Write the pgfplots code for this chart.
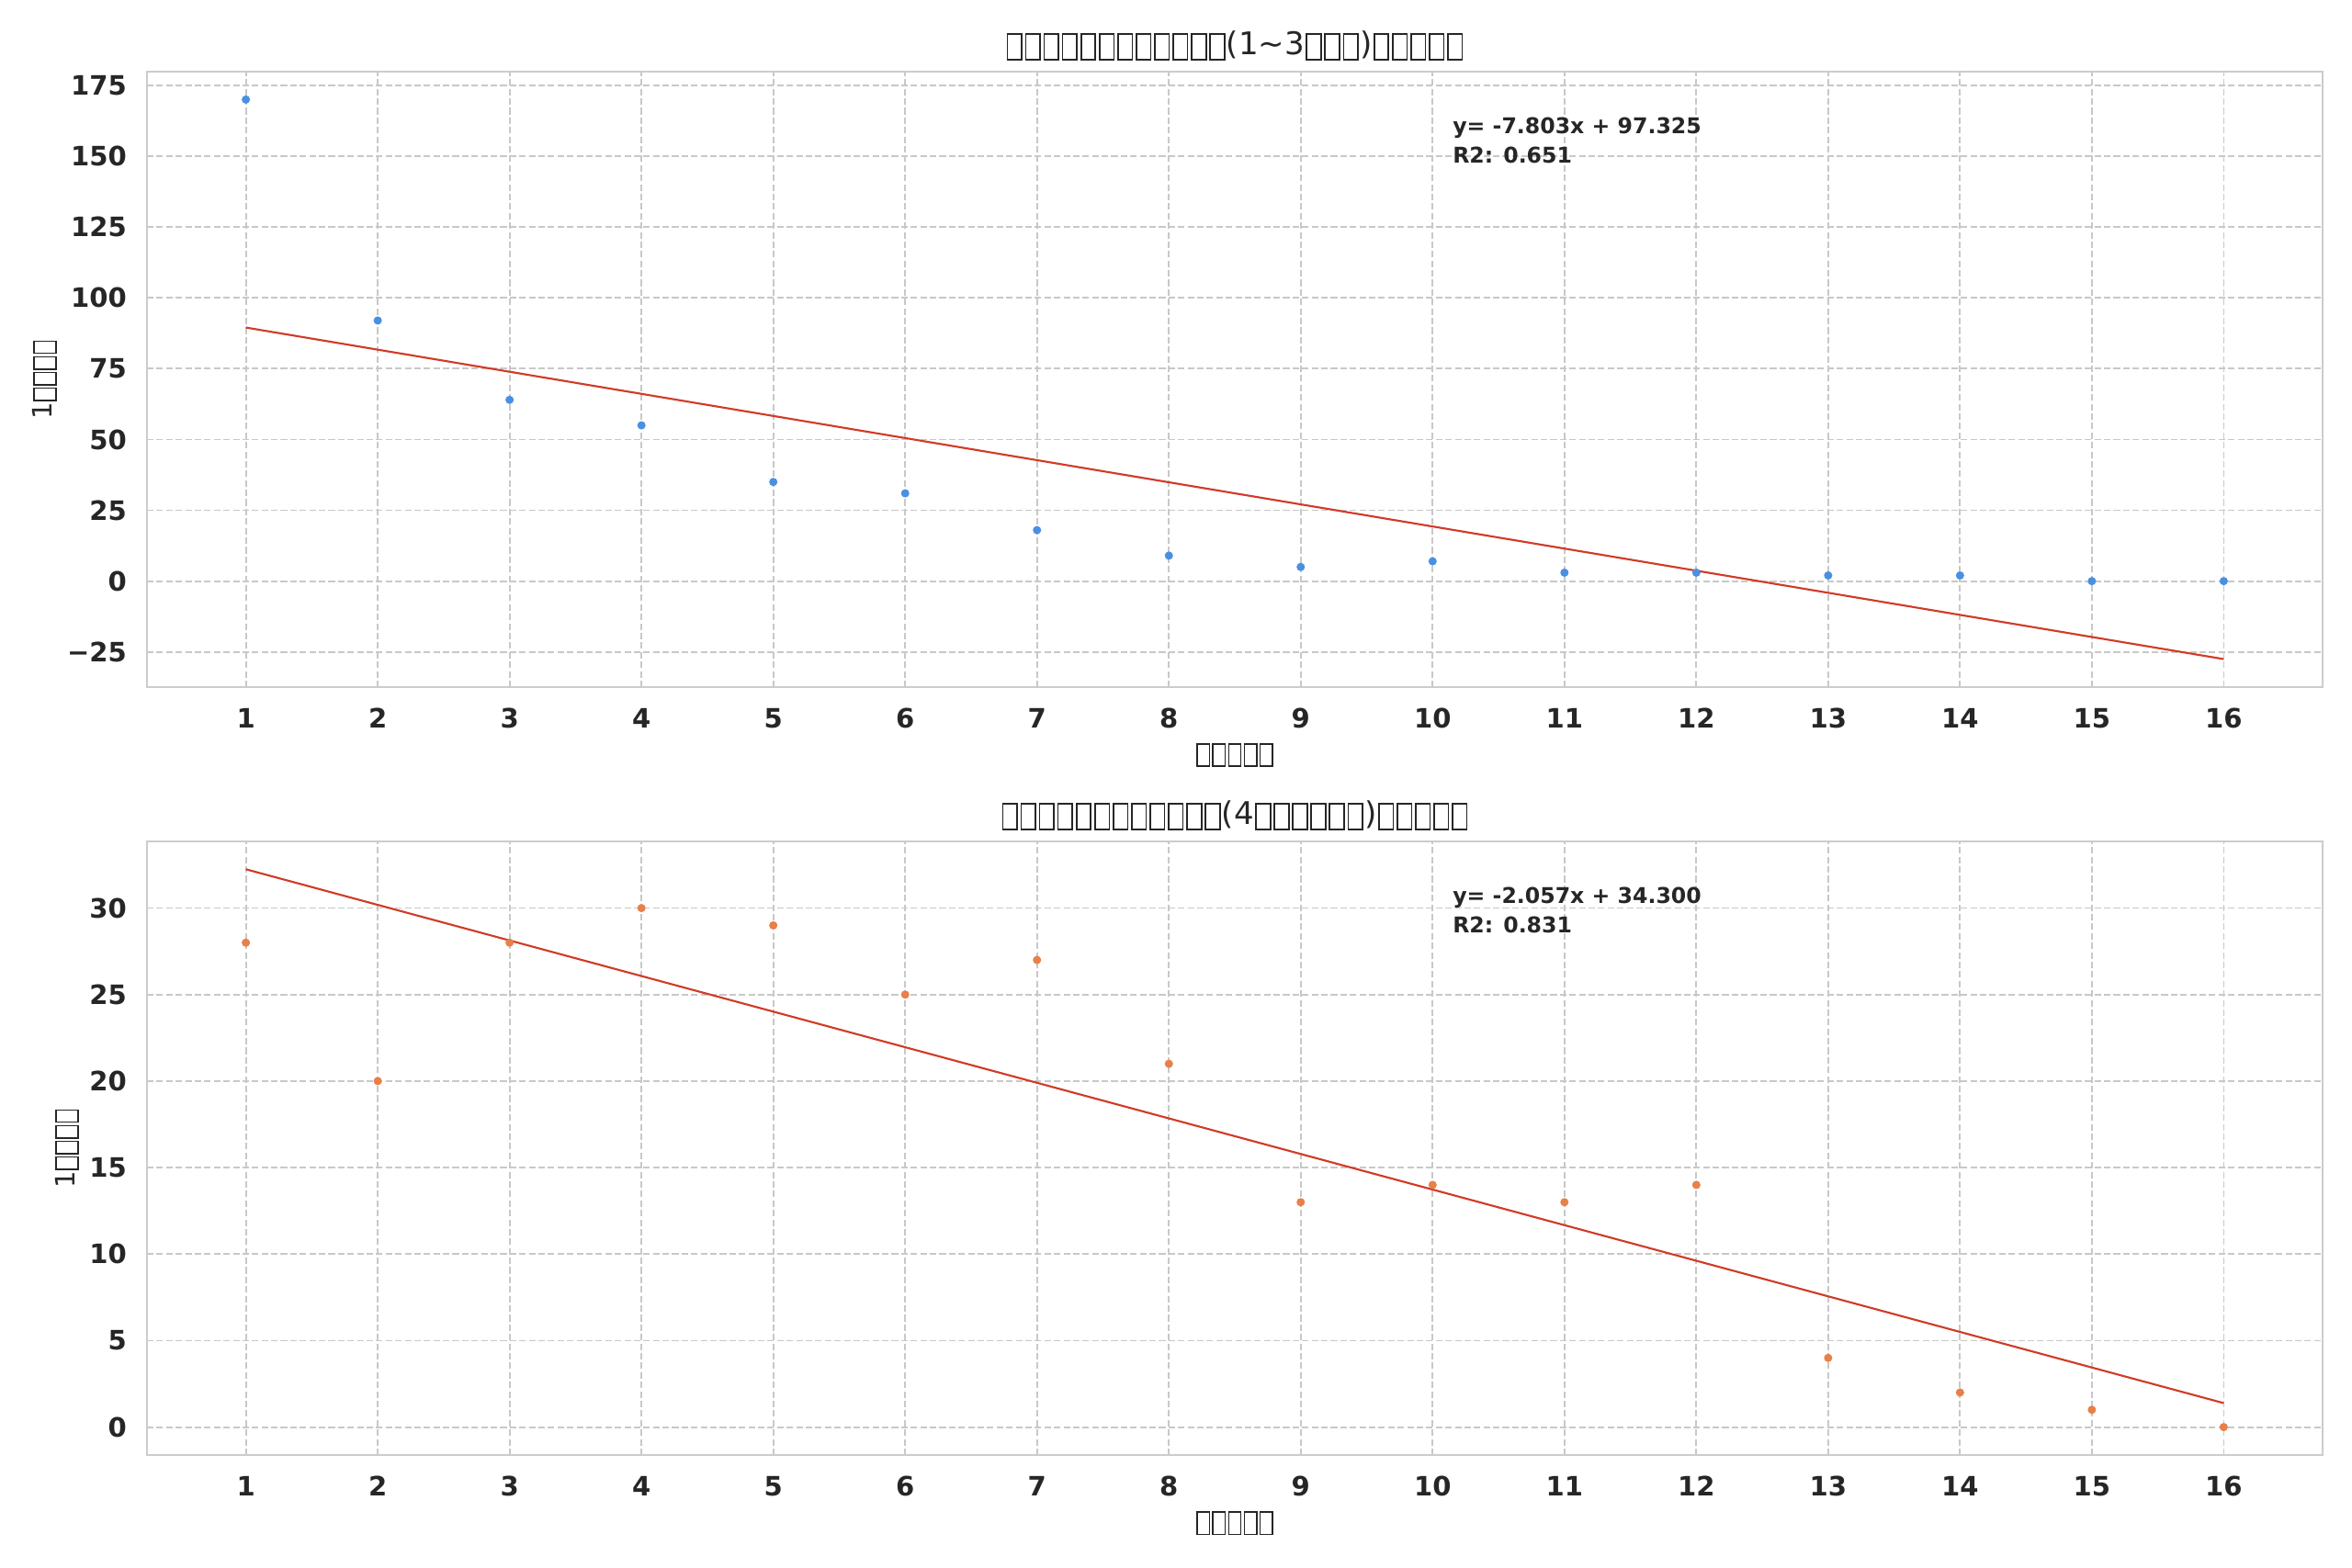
\documentclass[border=0pt]{standalone}
\usepackage{pgfplots}
\pgfplotsset{compat=1.18}
\usepackage{fontspec}
\setmainfont{DejaVu Sans}
\definecolor{txt}{HTML}{262626}
\definecolor{frame}{HTML}{CCCCCC}
\definecolor{gridc}{HTML}{C8C8C8}
\definecolor{ptblue}{HTML}{4A90E2}
\definecolor{ptorange}{HTML}{E8804A}
\definecolor{fitred}{HTML}{D13B28}
\newcommand\tofu{\kern0.04em\raisebox{-0.12em}{\setlength\fboxsep{0pt}\setlength\fboxrule{0.05em}\fbox{\rule{0pt}{0.78em}\rule{0.41em}{0pt}}}\kern0.04em}
\tikzset{annot/.style={anchor=base west, inner sep=0pt, font=\fontsize{10}{12}\selectfont\bfseries, text=txt}}
\pgfplotsset{
  common/.style={
    scale only axis,
    anchor=south west,
    width=1002.75pt,
    xmin=0.25, xmax=16.75,
    xtick={1,...,16},
    xticklabels={1,2,3,4,5,6,7,8,9,10,11,12,13,14,15,16},
    major tick length=0pt,
    grid=major,
    major grid style={color=gridc, line width=0.75pt, dash pattern=on 3pt off 1.4pt},
    axis line style={color=frame, line width=0.9pt},
    tick label style={font=\fontsize{12.3}{14}\selectfont\bfseries, text=txt},
    xticklabel style={anchor=base, inner sep=0pt, yshift=-19.06pt},
    yticklabel style={anchor=east, inner sep=0pt, xshift=-9.19pt},
    title style={at={(axis description cs:0.5,1)}, anchor=base, yshift=1.62pt, font=\fontsize{14.4}{17}\selectfont, text=txt},
    xlabel style={anchor=base, font=\fontsize{12.3}{14}\selectfont, text=txt},
    ylabel style={anchor=base, font=\fontsize{12.3}{14}\selectfont, text=txt},
    xlabel={\tofu\tofu\tofu\tofu\tofu},
    ylabel={1\tofu\tofu\tofu\tofu},
  },
}
\begin{document}
\begin{tikzpicture}
\useasboundingbox (0,0) rectangle (1084.05pt,722.84pt);
\begin{axis}[common,
  at={(67.75pt,406.10pt)},
  height=283.72pt,
  ymin=-37.399, ymax=179.876,
  ytick={-25,0,25,50,75,100,125,150,175},
  yticklabels={−25,0,25,50,75,100,125,150,175},
  title={\tofu\tofu\tofu\tofu\tofu\tofu\tofu\tofu\tofu\tofu\tofu\tofu(1\textasciitilde3\tofu\tofu\tofu)\tofu\tofu\tofu\tofu\tofu},
  xlabel style={at={(axis description cs:0.5,-0.1224)}},
  ylabel style={at={(axis description cs:-0.0435,0.5)}},
]
\addplot[only marks, mark=*, mark size=1.7pt, color=ptblue] coordinates {
(1,170) (2,92) (3,64) (4,55) (5,35) (6,31) (7,18) (8,9)
(9,5) (10,7) (11,3) (12,3) (13,2) (14,2) (15,0) (16,0)};
\addplot[no marks, color=fitred, line width=0.9pt] coordinates {(1,89.522) (16,-27.523)};
\node[annot] at (axis description cs:0.6,0.8985) {y= -7.803x + 97.325};
\node[annot] at (axis description cs:0.6,0.8507) {R2: 0.651};
\end{axis}
\begin{axis}[common,
  at={(67.75pt,52.09pt)},
  height=282.87pt,
  ymin=-1.612, ymax=33.855,
  ytick={0,5,10,15,20,25,30},
  yticklabels={0,5,10,15,20,25,30},
  title={\tofu\tofu\tofu\tofu\tofu\tofu\tofu\tofu\tofu\tofu\tofu\tofu(4\tofu\tofu\tofu\tofu\tofu\tofu)\tofu\tofu\tofu\tofu\tofu},
  xlabel style={at={(axis description cs:0.5,-0.1228)}},
  ylabel style={at={(axis description cs:-0.03336,0.5)}},
]
\addplot[only marks, mark=*, mark size=1.7pt, color=ptorange] coordinates {
(1,28) (2,20) (3,28) (4,30) (5,29) (6,25) (7,27) (8,21)
(9,13) (10,14) (11,13) (12,14) (13,4) (14,2) (15,1) (16,0)};
\addplot[no marks, color=fitred, line width=0.9pt] coordinates {(1,32.243) (16,1.388)};
\node[annot] at (axis description cs:0.6,0.8982) {y= -2.057x + 34.300};
\node[annot] at (axis description cs:0.6,0.8503) {R2: 0.831};
\end{axis}
\end{tikzpicture}
\end{document}
